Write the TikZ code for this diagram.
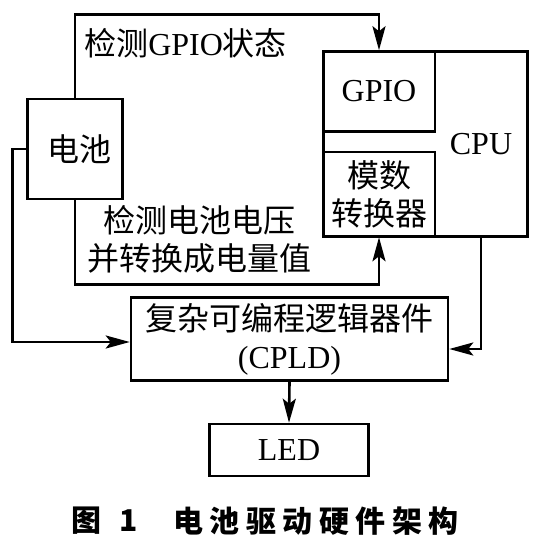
\documentclass[tikz,border=0pt]{standalone}
\usepackage{fontspec}
\setmainfont{Liberation Serif}
\newfontfamily\cjk{Noto Sans CJK SC}
\usetikzlibrary{arrows.meta, positioning, calc}
\newcommand{\zh}[1]{{\cjk #1}}

\begin{document}
\begin{tikzpicture}[
    x=1pt, y=-1pt,
    line width=2.5pt,
    every node/.style={font=\fontsize{32}{38}\selectfont},
    % Styles for the blocks, the connectors and the free labels
    box/.style={draw=black, line width=2.5pt, inner sep=0pt, align=center},
    conn/.style={line width=2.6pt, -{Stealth[length=24pt,width=13pt,inset=5pt]}},
    tag/.style={align=center, inner sep=0pt},
    caption/.style={inner sep=0pt, anchor=west, font={\cjk\bfseries\fontsize{30}{36}\selectfont}}
]
    \useasboundingbox (0,0) rectangle (536,538);

    % 1. The battery
    \node[box, minimum width=95pt, minimum height=100pt] (bat) at (75,149) {\hspace{8pt}\zh{电池}};

    % 2. The CPU with its GPIO and its A/D converter
    \node[box, minimum width=204pt, minimum height=185pt] (cpu) at (425.5,144) {};
    \node[box, minimum width=112pt, minimum height=80pt] (gpio) at (379,91.5) {GPIO};
    \node[box, minimum width=112pt, minimum height=84pt] (adc) at (379,194) {\zh{模数}\\\zh{转换器}};
    \node[tag] (cpulbl) at (481,144) {CPU};

    % 3. The CPLD and the LED
    \node[box, minimum width=317pt, minimum height=83pt] (cpld) at (289.5,339) {\zh{复杂可编程逻辑器件}\\(CPLD)};
    \node[box, minimum width=159pt, minimum height=52pt] (led) at (289,450) {LED};

    % 4. The connectors
    \coordinate (gpioin) at (379,14.5);
    \coordinate (adcin) at (379,284.5);
    \draw[conn] (bat.north) |- (gpioin) -- (gpio.north);
    \draw[conn] (bat.south) |- (adcin) -- (adc.south);
    \draw[conn] (bat.west) -- ++(-14,0) |- ([yshift=-3pt]cpld.west);
    \draw[conn] (cpulbl |- cpu.south) |- ([yshift=-10pt]cpld.east);
    \draw[conn] (cpld.south) -- (led.north);

    % 5. The connector labels
    \node[tag, anchor=west] (gpiolbl) at (83,43) {\zh{检测}GPIO\zh{状态}};
    \node[tag] (adclbl) at (199,239) {\zh{检测电池电压}\\\zh{并转换成电量值}};

    % 6. The caption
    \node[caption] (capnum) at (70,521) {图\hspace{18pt}1};
    \node[caption] (captitle) at (172,521) {电\hspace{6.5pt}池\hspace{6.5pt}驱\hspace{6.5pt}动\hspace{6.5pt}硬\hspace{6.5pt}件\hspace{6.5pt}架\hspace{6.5pt}构};

\end{tikzpicture}
\end{document}
